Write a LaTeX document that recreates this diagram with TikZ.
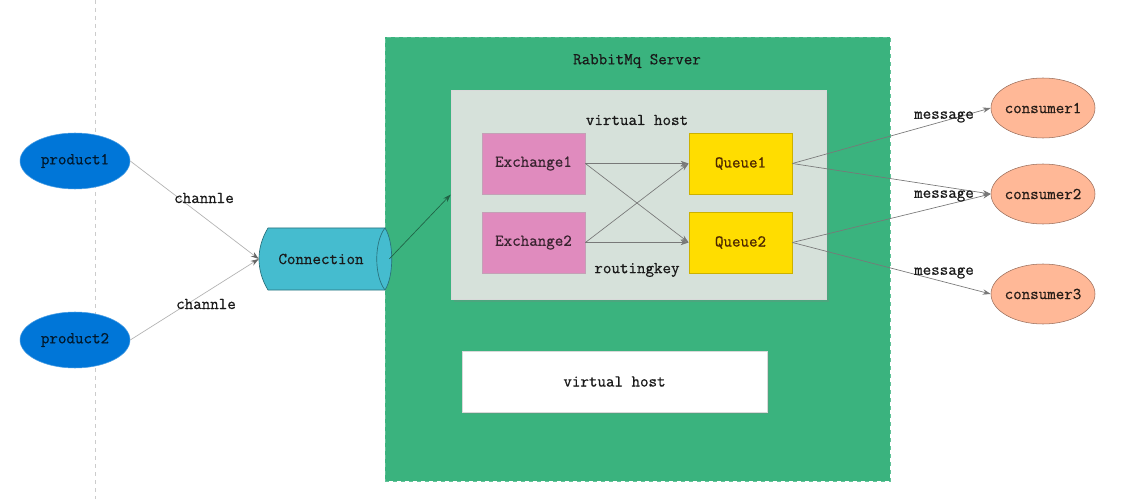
\documentclass[tikz,border=0pt]{standalone}
\usepackage{fontspec}
\setmonofont[FakeBold=0.7]{Latin Modern Mono}
\usetikzlibrary{shapes.geometric,arrows.meta,shadows}
\definecolor{srvgreen}{RGB}{58,179,126}
\definecolor{vhgray}{RGB}{214,225,218}
\definecolor{expink}{RGB}{224,139,190}
\definecolor{qyellow}{RGB}{255,221,0}
\definecolor{prodblue}{RGB}{0,118,216}
\definecolor{connteal}{RGB}{69,188,207}
\definecolor{conspeach}{RGB}{255,184,151}
\definecolor{linegray}{RGB}{120,120,120}
\tikzset{
  txt/.style={font=\ttfamily\fontsize{12.4}{14}\selectfont, text=black!90},
  rbox/.style={rectangle, inner sep=0pt, txt},
  exbox/.style={rbox, minimum width=77.25pt, minimum height=45.75pt, draw=expink!70!black!60, fill=expink, line width=0.6pt, text=black!75!expink},
  qbox/.style={rbox, minimum width=77.25pt, minimum height=45.75pt, draw=qyellow!80!black, fill=qyellow, line width=0.6pt, text=black!70!orange},
  prod/.style={ellipse, inner sep=0pt, fill=prodblue, draw=prodblue!70!white, minimum width=82.5pt, minimum height=42pt, txt, text=black!80!prodblue},
  cons/.style={ellipse, inner sep=0pt, fill=conspeach, draw=conspeach!60!black, line width=0.4pt, minimum width=78pt, minimum height=45pt, txt, text=black!85!conspeach},
  arr/.style={draw=linegray, line width=0.5pt, -{Stealth[length=6pt,width=4pt]}},
  lbl/.style={txt, inner sep=1pt}
}
\begin{document}
\begin{tikzpicture}[x=0.75pt,y=-0.75pt]
\useasboundingbox (0,0) rectangle (1143,499);
\fill[white] (0,0) rectangle (1143,499);
% guide line
\draw[black!20, dashed, line width=0.4pt] (95,0) -- (95,499);

% server box
\node[rbox, minimum width=378.75pt, minimum height=333pt, fill=srvgreen, draw=srvgreen!80!white, dashed, line width=0.5pt] (srv) at (637.5,259) {};
\node[txt] (srvlbl) at (637,61) {RabbitMq Server};

% virtual host 1
\node[rbox, minimum width=281.25pt, minimum height=156.75pt, fill=vhgray, draw=black!15, drop shadow={shadow xshift=2pt, shadow yshift=-2pt, opacity=0.25}] (vh) at (638.5,194.5) {};
\node[txt] (vhlbl) at (637,120) {virtual host};
\node[txt] (rk) at (637,270) {routingkey};

% virtual host 2
\node[rbox, minimum width=228.75pt, minimum height=45.75pt, fill=white, draw=black!15, drop shadow={shadow xshift=1.5pt, shadow yshift=-1.5pt, opacity=0.25}] (vh2) at (614.5,381.5) {virtual host};

% exchanges and queues
\node[exbox] (ex1) at (533.5,163.5) {Exchange1};
\node[exbox] (ex2) at (533.5,242.5) {Exchange2};
\node[qbox] (q1) at (740.5,163.5) {Queue1};
\node[qbox] (q2) at (740.5,242.5) {Queue2};

\draw[arr] (ex1.east) -- (q1.west);
\draw[arr] (ex1.east) -- (q2.west);
\draw[arr] (ex2.east) -- (q1.west);
\draw[arr] (ex2.east) -- (q2.west);

% connection cylinder
\fill[connteal] (385,228) -- (268,228) .. controls (256,248) and (256,270) .. (268,290) -- (385,290)
  .. controls (394,276) and (394,242) .. (385,228) -- cycle;
\draw[connteal!60!black, line width=0.5pt] (385,228) -- (268,228) .. controls (256,248) and (256,270) .. (268,290) -- (385,290)
  .. controls (394,276) and (394,242) .. (385,228);
\draw[connteal!60!black, line width=0.5pt] (385,228) .. controls (374,242) and (374,276) .. (385,290);
\node[rbox, minimum width=97.5pt, minimum height=46.5pt] (conn) at (324,259) {};
\node[txt] (connlbl) at (321,259) {Connection};

% producers
\node[prod] (p1) at (75,161) {\makebox[0pt]{product1}};
\node[prod] (p2) at (75,340) {\makebox[0pt]{product2}};
\draw[black!30, line width=0.5pt, -{Stealth[length=6pt,width=4pt,color=black!60]}] (p1.east) -- (conn.west);
\draw[black!30, line width=0.5pt, -{Stealth[length=6pt,width=4pt,color=black!60]}] (p2.east) -- (conn.west);
\node[lbl] (ch1) at (204,198) {channle};
\node[lbl] (ch2) at (206,304) {channle};

\draw[draw=black!45!srvgreen, line width=0.5pt, -{Stealth[length=6pt,width=4pt]}] (conn.east) -- (vh.west);

% consumers
\node[cons] (c1) at (1043,108) {\makebox[0pt]{consumer1}};
\node[cons] (c2) at (1043,194) {\makebox[0pt]{consumer2}};
\node[cons] (c3) at (1043,294) {\makebox[0pt]{consumer3}};

\draw[arr] (q1.east) -- (c1.west);
\draw[arr] (q1.east) -- (c2.west);
\draw[arr] (q2.east) -- (c2.west);
\draw[arr] (q2.east) -- (c3.west);
\node[lbl] (m1) at (944,117) {message};
\node[lbl] (m2) at (944,196) {message};
\node[lbl] (m3) at (944,273) {message};
\end{tikzpicture}
\end{document}
